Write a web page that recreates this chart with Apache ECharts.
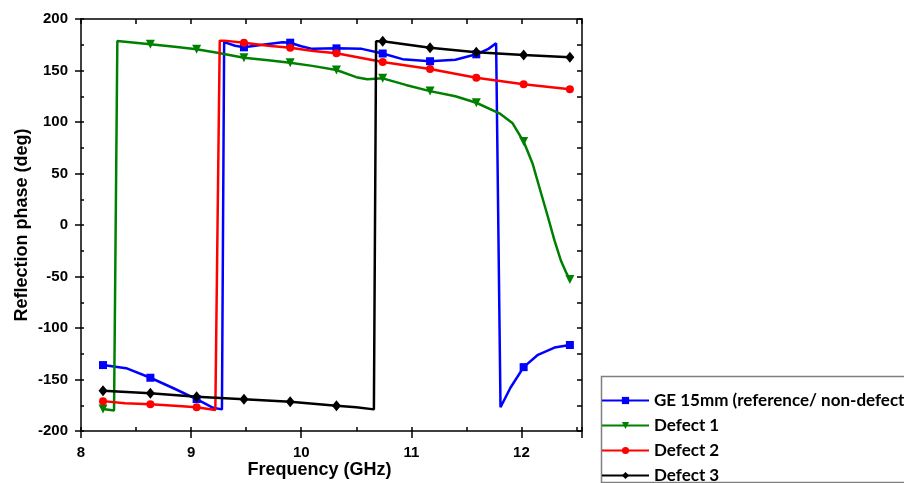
<!DOCTYPE html>
<html><head><meta charset="utf-8">
<script src="https://cdn.jsdelivr.net/npm/echarts@6/dist/echarts.min.js"></script>
<style>html,body{margin:0;padding:0;background:#fff}#c{width:904px;height:483px}</style>
</head><body><div id="c"></div><script>
const seriesNames = ['GE 15mm (reference/ non-defect)', 'Defect 1', 'Defect 2', 'Defect 3'];
const xRange = [8, 12.55];
const yRange = [-200, 200];
const xTickStep = 1;
const yTickStep = 50;
// x positions that carry a marker
const markerX = [8.2, 8.63, 9.05, 9.48, 9.9, 10.32, 10.74, 11.17, 11.59, 12.02, 12.44];

const geData = [
  [8.2,-136],[8.41,-139],[8.63,-148.3],[8.84,-158.5],[9.05,-169],[9.2,-177.5],[9.28,-179],
  [9.30,177.5],[9.40,174],[9.48,172.5],[9.65,175],[9.83,177.5],[9.9,177],[10.0,173.5],[10.1,171],
  [10.32,171.5],[10.55,171],[10.74,166.5],[10.92,161],[11.17,159],[11.4,160.5],[11.59,165.7],
  [11.7,171],[11.77,176.5],[11.81,-177],[11.9,-158],[12.02,-138],[12.15,-126],[12.3,-119],[12.44,-116.5]
];
const d1Data = [
  [8.2,-178.6],[8.30,-180],[8.33,178.6],[8.4,178],[8.63,175.4],[8.85,173],[9.05,170.6],[9.25,167],
  [9.48,162.4],[9.7,160],[9.9,157.6],[10.1,154.5],[10.32,150.5],[10.5,143.5],[10.6,141.5],[10.74,142.4],
  [10.95,136],[11.17,130],[11.4,125],[11.59,118.7],[11.8,108.4],[11.92,98.7],[12.02,81],[12.1,60],
  [12.17,34],[12.24,8],[12.3,-15],[12.36,-35],[12.41,-47],[12.44,-53]
];
const d2Data = [
  [8.2,-171],[8.4,-173],[8.63,-174],[8.85,-175.5],[9.05,-177],[9.22,-179.6],[9.26,179],[9.3,179],
  [9.48,177],[9.7,174],[9.9,172],[10.11,169],[10.32,166.7],[10.74,158.3],[11.17,151.5],[11.59,143],
  [12.02,136.6],[12.44,131.7]
];
const d3Data = [
  [8.2,-160.9],[8.63,-163.4],[9.05,-166.7],[9.48,-169.2],[9.9,-171.5],[10.32,-175.4],[10.5,-177],
  [10.66,-179],[10.68,178.5],[10.74,178.5],[11.17,172.1],[11.59,167.7],[12.02,165],[12.44,162.8]
];
const allData = [geData, d1Data, d2Data, d3Data];
const colors = ['#0000ff', '#008000', '#ff0000', '#000000'];
const symbols = ['rect', 'triangle', 'circle', 'diamond'];
const symbolSizes = [8, 9, 8, [9, 11]];
const symbolRotates = [0, 180, 0, 0];

const chart = echarts.init(document.getElementById('c'), null, {renderer: 'canvas'});
const isMarker = x => markerX.some(m => Math.abs(m - x) < 1e-6);

const series = allData.map((d, i) => ({
  name: seriesNames[i],
  type: 'line',
  xAxisIndex: 0, yAxisIndex: 0,
  data: d.map(p => isMarker(p[0]) ? {value: p} : {value: p, symbol: 'none'}),
  symbol: symbols[i],
  symbolSize: symbolSizes[i],
  symbolRotate: symbolRotates[i],
  showSymbol: true,
  showAllSymbol: true,
  smooth: false,
  clip: true,
  lineStyle: {color: colors[i], width: 2.5},
  itemStyle: {color: colors[i]},
  emphasis: {disabled: true},
  animation: false
}));

const labelFont = {fontFamily: 'Liberation Sans', fontWeight: 'bold', fontSize: 15, color: '#000'};
const lineStyle = {color: '#000', width: 1.5};
const hiddenAxisBase = {axisLabel: {show: false}, splitLine: {show: false}};

const option = {
  backgroundColor: '#fff',
  animation: false,
  grid: {left: 81, right: 322, top: 19, bottom: 52, outerBoundsMode: 'none', containLabel: false},
  graphic: [{
    type: 'rect', left: 599, top: 374, silent: true,
    shape: {x: 0, y: 0, width: 320, height: 106},
    style: {fill: 'none', stroke: '#7f7f7f', lineWidth: 1.5}
  }],
  legend: {
    left: 600, top: 375, height: 200, width: 600,
    orient: 'vertical',
    padding: [17, 10, 0, 1],
    itemGap: 8,
    itemWidth: 47,
    itemHeight: 9,
    borderWidth: 0,
    textStyle: {fontFamily: 'Lato', fontWeight: 'bold', fontSize: 17, color: '#000'},
    data: seriesNames
  },
  xAxis: [
    {type: 'value', position: 'bottom', min: xRange[0], max: xRange[1], interval: xTickStep,
     axisLine: {show: true, onZero: false, lineStyle}, axisTick: {show: true, inside: false, length: 7, lineStyle},
     axisLabel: Object.assign({margin: 14, formatter: v => (Math.abs(v - Math.round(v)) < 1e-6 ? String(Math.round(v)) : '')}, labelFont),
     splitLine: {show: false},
     name: 'Frequency (GHz)', nameLocation: 'middle', nameGap: 30, nameMoveOverlap: false,
     nameTextStyle: {fontFamily: 'Liberation Sans', fontWeight: 'bold', fontSize: 18, color: '#000', padding: [0, 24, 0, 0]}},
    Object.assign({type: 'value', position: 'top', min: xRange[0], max: xRange[1], interval: xTickStep / 2,
     axisLine: {show: true, onZero: false, lineStyle}, axisTick: {show: true, inside: true, length: 5, lineStyle}}, hiddenAxisBase),
    Object.assign({type: 'value', position: 'bottom', min: xRange[0], max: xRange[1], interval: xTickStep / 2,
     axisLine: {show: false, onZero: false}, axisTick: {show: true, inside: true, length: 4, lineStyle}}, hiddenAxisBase)
  ],
  yAxis: [
    {type: 'value', position: 'left', min: yRange[0], max: yRange[1], interval: yTickStep,
     axisLine: {show: true, onZero: false, lineStyle}, axisTick: {show: true, inside: false, length: 6, lineStyle},
     axisLabel: Object.assign({margin: 13}, labelFont),
     splitLine: {show: false},
     name: 'Reflection phase (deg)', nameLocation: 'middle', nameGap: 50, nameMoveOverlap: false,
     nameTextStyle: {fontFamily: 'Liberation Sans', fontWeight: 'bold', fontSize: 18, color: '#000'}},
    Object.assign({type: 'value', position: 'right', min: yRange[0], max: yRange[1], interval: yTickStep / 2,
     axisLine: {show: true, onZero: false, lineStyle}, axisTick: {show: true, inside: true, length: 5, lineStyle}}, hiddenAxisBase),
    Object.assign({type: 'value', position: 'left', min: yRange[0], max: yRange[1], interval: yTickStep / 2,
     axisLine: {show: false, onZero: false}, axisTick: {show: true, inside: true, length: 3, lineStyle}}, hiddenAxisBase)
  ],
  series
};
chart.setOption(option);
</script></body></html>
